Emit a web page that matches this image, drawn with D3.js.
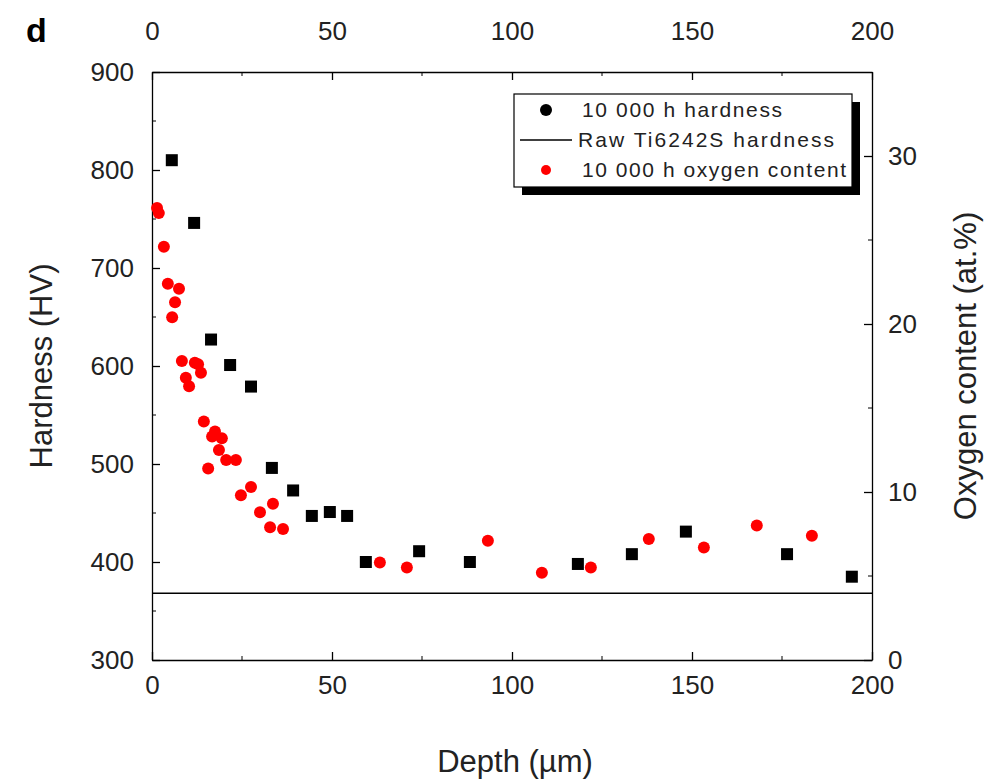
<!DOCTYPE html>
<html><head><meta charset="utf-8">
<script src="https://cdn.jsdelivr.net/npm/d3@7"></script>
<style>body{margin:0;background:#fff}text{font-family:Arial,"Liberation Sans",sans-serif}</style>
</head><body>
<svg id="c" width="990" height="783"></svg>
<script>
// hardness, 10 000 h
var hardDepth = [5.5,11.7,16.4,21.7,27.5,33.3,39.2,44.4,49.4,54.2,59.4,74.2,88.3,118.3,133.3,148.3,176.4,194.4];
var hardValue = [810,746,627,601,579,496,473,447,451,447,400,411,400,398,408,431,408,385];
var rawHardness = 368;
// oxygen content, 10 000 h
var oxDepth = [1.4,1.9,3.3,4.4,5.6,6.4,7.5,8.3,9.4,10.3,11.9,12.8,13.6,14.4,15.6,16.7,17.5,18.6,19.4,20.6,23.3,24.7,27.5,30,32.8,33.6,36.4,63.3,70.8,93.3,108.3,121.9,138,153.3,168,183.3];
var oxValue = [26.9,26.6,24.6,22.4,20.4,21.3,22.1,17.8,16.8,16.3,17.7,17.6,17.1,14.2,11.4,13.3,13.6,12.5,13.2,11.9,11.9,9.8,10.3,8.8,7.9,9.3,7.8,5.8,5.5,7.1,5.2,5.5,7.2,6.7,8.0,7.4];
var xTicks = [0,50,100,150,200];
var yTicks = [300,400,500,600,700,800,900];
var y2Ticks = [0,10,20,30];

var svg = d3.select("#c");
var L=152,R=872,T=72,B=660;
var x = d3.scaleLinear().domain([0,200]).range([L,R]);
var y = d3.scaleLinear().domain([300,900]).range([B,T]);
var y2 = d3.scaleLinear().domain([0,35]).range([B,T]);

function style(g){
  g.selectAll("text").attr("font-size",26).attr("fill","#222");
  g.selectAll("line,path").attr("stroke","#000").attr("stroke-width",1.3);
}
svg.append("g").attr("transform","translate(0,"+B+")")
  .call(d3.axisBottom(x).tickValues(xTicks).tickSize(-8).tickPadding(16).tickSizeOuter(0)).call(style);
svg.append("g").attr("transform","translate(0,"+T+")")
  .call(d3.axisTop(x).tickValues(xTicks).tickSize(-8).tickPadding(32).tickSizeOuter(0)).call(style);
svg.append("g").attr("transform","translate("+L+",0)")
  .call(d3.axisLeft(y).tickValues(yTicks).tickSize(-8).tickPadding(18).tickSizeOuter(0)).call(style);
svg.append("g").attr("transform","translate("+R+",0)")
  .call(d3.axisRight(y2).tickValues(y2Ticks).tickSize(-8).tickPadding(16).tickSizeOuter(0)).call(style);
// minor ticks
svg.append("g").selectAll("line").data(d3.range(25,200,50)).join("line")
  .attr("x1",x).attr("x2",x).attr("y1",B).attr("y2",B-4).attr("stroke","#000");
svg.append("g").selectAll("line").data(d3.range(25,200,50)).join("line")
  .attr("x1",x).attr("x2",x).attr("y1",T).attr("y2",T+4).attr("stroke","#000");
svg.append("g").selectAll("line").data(d3.range(350,900,100)).join("line")
  .attr("x1",L).attr("x2",L+4).attr("y1",y).attr("y2",y).attr("stroke","#000");
svg.append("g").selectAll("line").data(d3.range(5,35,10)).join("line")
  .attr("x1",R).attr("x2",R-4).attr("y1",y2).attr("y2",y2).attr("stroke","#000");

svg.append("line").attr("x1",x(0)).attr("x2",x(200)).attr("y1",y(rawHardness)).attr("y2",y(rawHardness))
  .attr("stroke","#000").attr("stroke-width",1.5);

svg.append("g").selectAll("rect").data(hardDepth).join("rect")
  .attr("x",function(d){return x(d)-6;}).attr("y",function(d,i){return y(hardValue[i])-6;})
  .attr("width",12).attr("height",12).attr("fill","#000");
svg.append("g").selectAll("circle").data(oxDepth).join("circle")
  .attr("cx",function(d){return x(d);}).attr("cy",function(d,i){return y2(oxValue[i]);})
  .attr("r",6).attr("fill","#f00");

// labels
svg.append("text").attr("x",515).attr("y",772).attr("text-anchor","middle").attr("font-size",31).attr("fill","#222").text("Depth (µm)");
svg.append("text").attr("transform","translate(52,366) rotate(-90)").attr("text-anchor","middle").attr("font-size",31).attr("fill","#222").text("Hardness (HV)");
svg.append("text").attr("transform","translate(976,366) rotate(-90)").attr("text-anchor","middle").attr("font-size",31).attr("fill","#222").text("Oxygen content (at.%)");
svg.append("text").attr("x",26).attr("y",42).attr("font-size",34).attr("font-weight","bold").text("d");

// legend
var lg = svg.append("g");
lg.append("rect").attr("x",522).attr("y",102).attr("width",338).attr("height",93).attr("fill","#000");
lg.append("rect").attr("x",514).attr("y",94).attr("width",338).attr("height",93).attr("fill","#fff").attr("stroke","#000").attr("stroke-width",1.2);
var items=["10 000 h hardness","Raw Ti6242S hardness","10 000 h oxygen content"];
items.forEach(function(t,i){
  var yy=110+i*30;
  if(i==0) lg.append("circle").attr("cx",546).attr("cy",yy).attr("r",6).attr("fill","#000");
  if(i==1) lg.append("line").attr("x1",520).attr("x2",572).attr("y1",yy).attr("y2",yy).attr("stroke","#000").attr("stroke-width",1.3);
  if(i==2) lg.append("circle").attr("cx",546).attr("cy",yy).attr("r",5).attr("fill","#f00");
  lg.append("text").attr("x",i==1?578:582).attr("y",yy+7).attr("font-size",21).attr("fill","#222")
    .attr("textLength",i==1?256:i==0?200:264).text(t);
});
</script>
</body></html>
